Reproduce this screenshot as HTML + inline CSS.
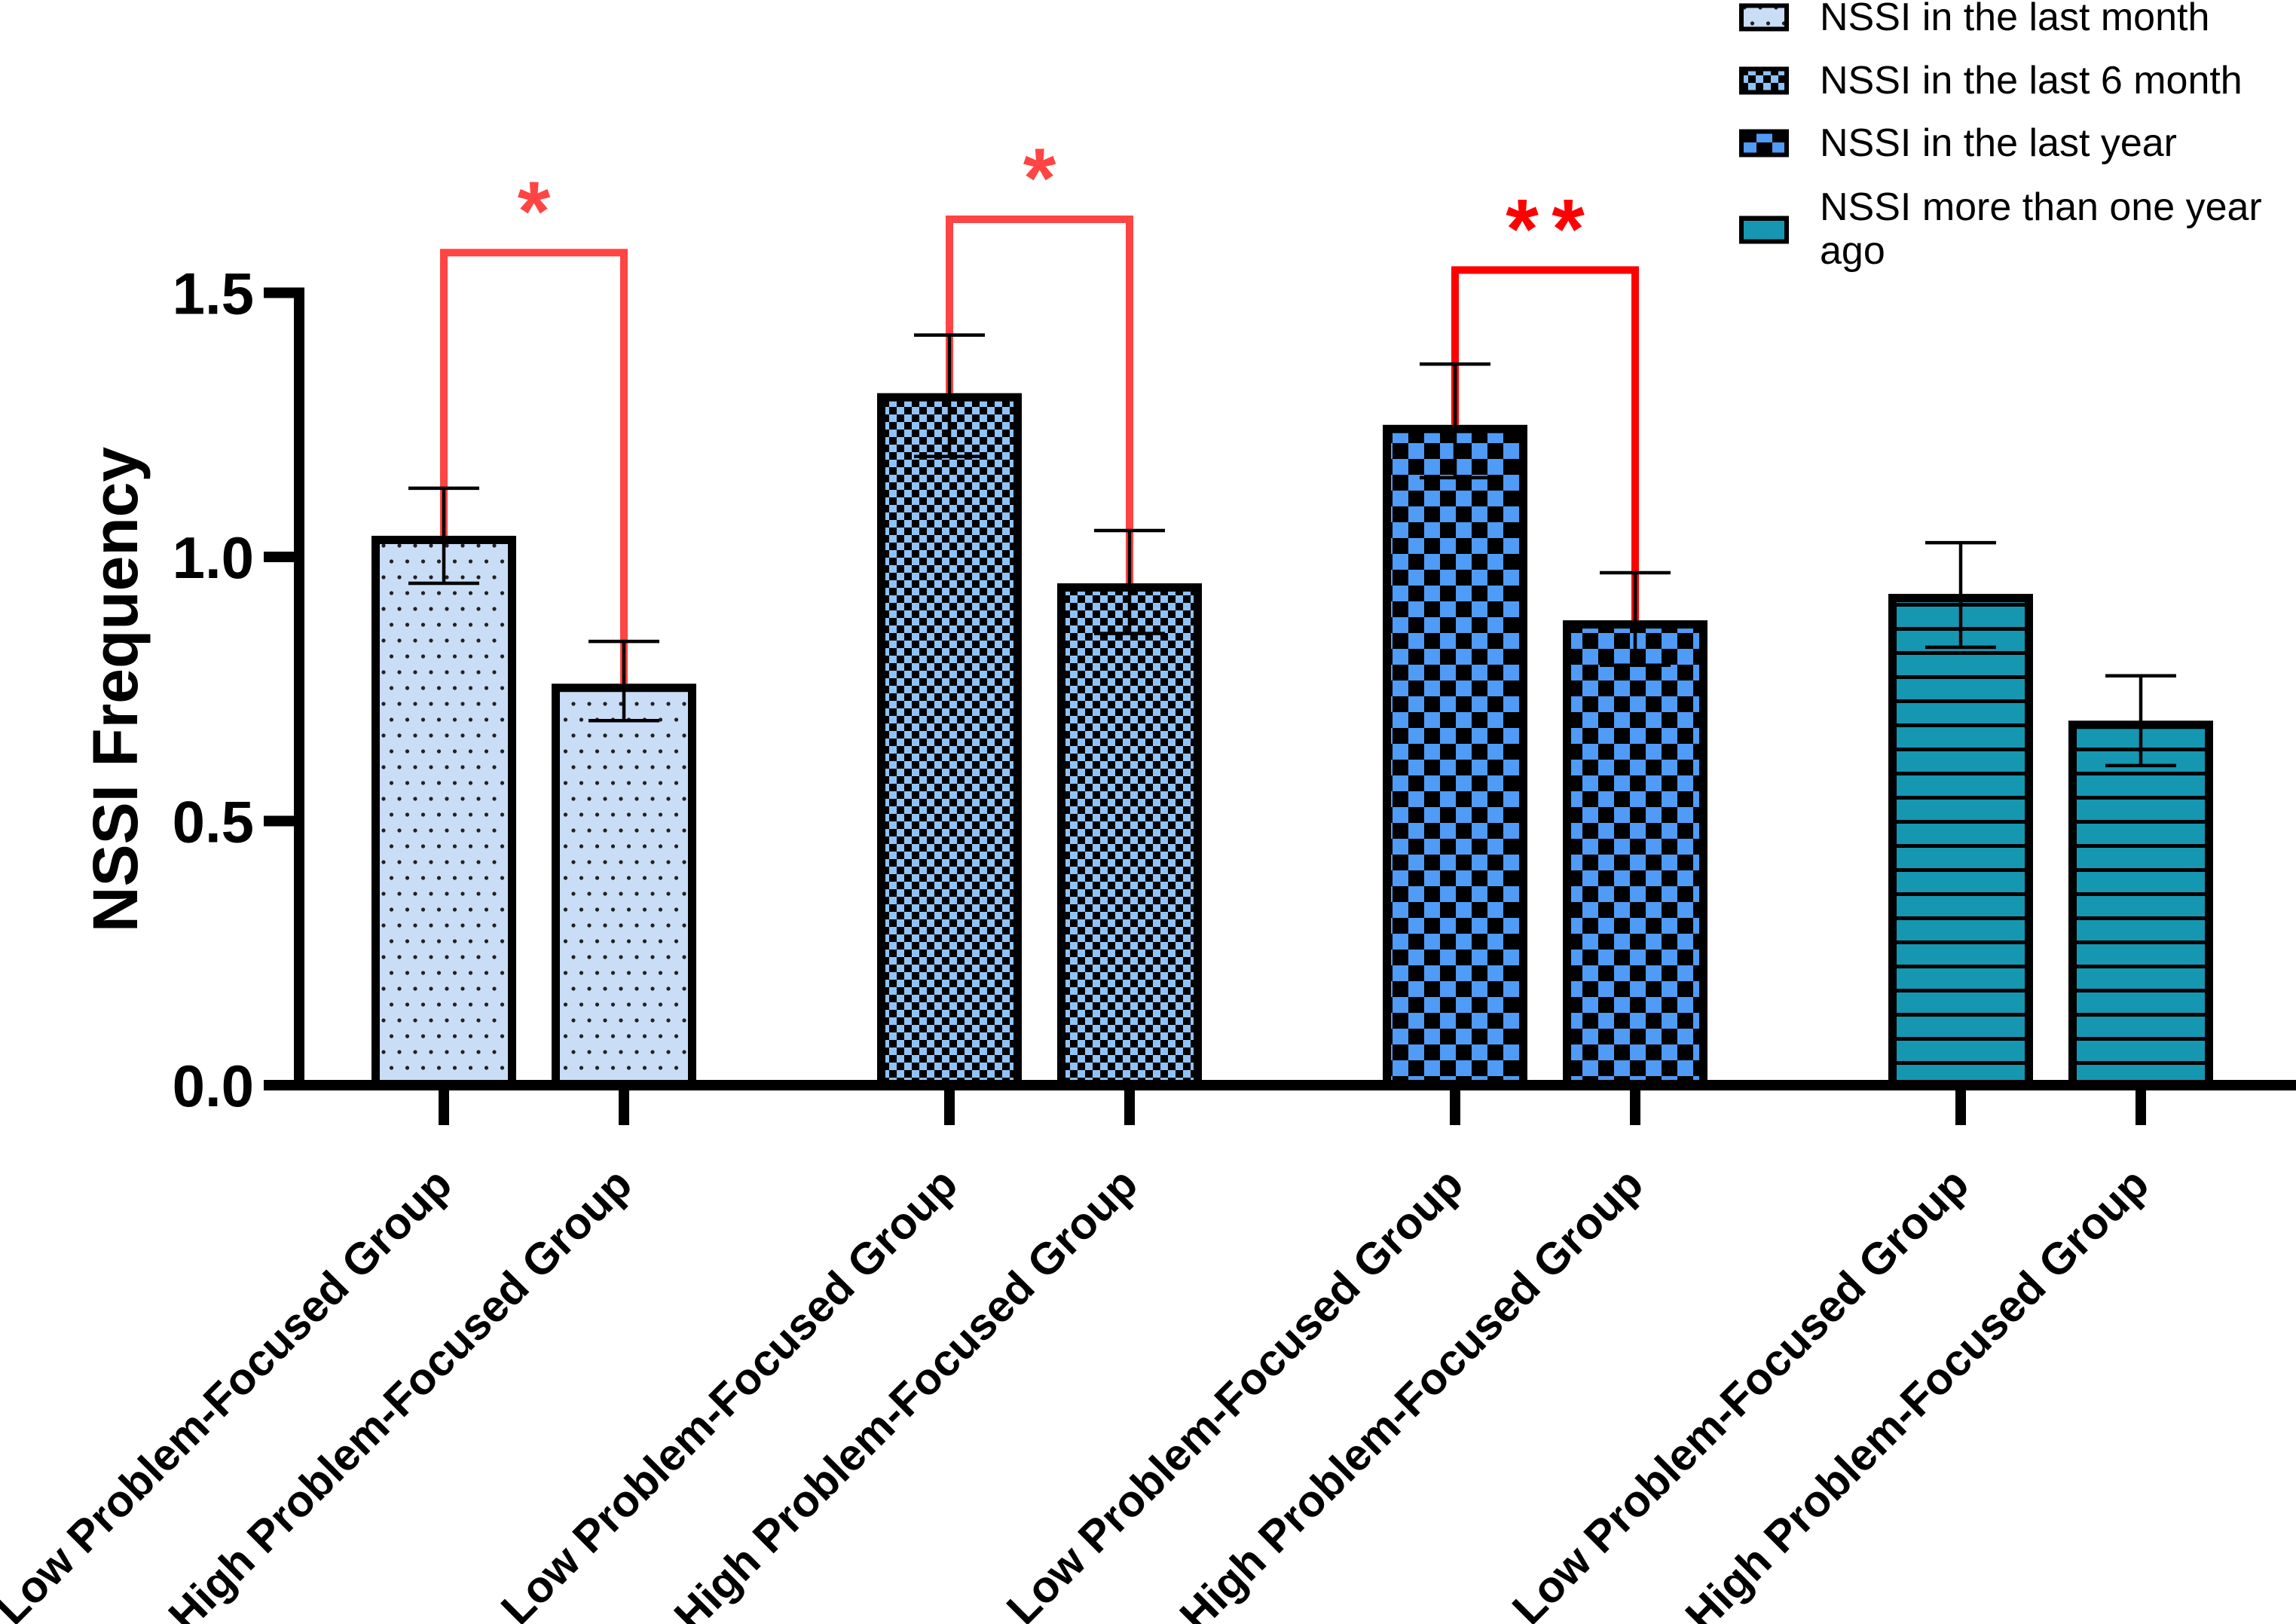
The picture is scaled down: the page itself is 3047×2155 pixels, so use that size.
<!DOCTYPE html>
<html><head><meta charset="utf-8"><style>
html,body{margin:0;padding:0;background:#fff;}
svg{display:block;font-family:"Liberation Sans",Arial,sans-serif;}
</style></head><body>
<svg id="chart" width="3047" height="2155" viewBox="0 0 3047 2155" xmlns="http://www.w3.org/2000/svg">
<defs>
  <pattern id="p-dots" patternUnits="userSpaceOnUse" width="21" height="42" x="0" y="0">
    <rect width="21" height="42" fill="#c9ddf6"/>
    <circle cx="5" cy="10" r="2.6" fill="#222"/>
    <circle cx="15.5" cy="31" r="2.6" fill="#222"/>
  </pattern>
  <pattern id="p-check-small" patternUnits="userSpaceOnUse" width="20" height="20">
    <rect width="20" height="20" fill="#8fc3f7"/>
    <rect width="10" height="10" fill="#000"/>
    <rect x="10" y="10" width="10" height="10" fill="#000"/>
  </pattern>
  <pattern id="p-check-large" patternUnits="userSpaceOnUse" width="42" height="42">
    <rect width="42" height="42" fill="#4f9bf5"/>
    <rect width="21" height="21" fill="#000"/>
    <rect x="21" y="21" width="21" height="21" fill="#000"/>
  </pattern>
  <pattern id="p-stripes" patternUnits="userSpaceOnUse" width="20" height="32">
    <rect width="20" height="32" fill="#1597b2"/>
    <rect y="0" width="20" height="5" fill="#000"/>
  </pattern>
</defs>
<g id="plot"></g>
</svg>
<script>
const categories = ["Low Problem-Focused Group","High Problem-Focused Group","Low Problem-Focused Group","High Problem-Focused Group","Low Problem-Focused Group","High Problem-Focused Group","Low Problem-Focused Group","High Problem-Focused Group"];
const seriesNames = ["NSSI in the last month","NSSI in the last 6 month","NSSI in the last year","NSSI more than one year ago"];
const barSeries = [0,0,1,1,2,2,3,3];
const means = [1.04,0.76,1.31,0.95,1.25,0.88,0.93,0.69];
const errHigh = [1.13,0.84,1.42,1.05,1.365,0.97,1.027,0.775];
const errLow = [0.95,0.69,1.19,0.855,1.15,0.795,0.829,0.605];
const yTicks = [0,0.5,1.0,1.5];
const yTickLabels = ["0.0","0.5","1.0","1.5"];
const bracketPairs = [[0,1],[2,3],[4,5]];
const bracketLevels = [1.576,1.639,1.543];
const bracketLabels = ["*","*","**"];

const NS='http://www.w3.org/2000/svg';
const plot=document.getElementById('plot');
const Y0=1440, PXU=701;
function yScale(v){return Y0 - v*PXU;}
const xStart=589, groupGap=671, inner=239;
function xScale(i){return xStart + Math.floor(i/2)*groupGap + (i%2)*inner;}
const barW=192;
const fills=['url(#p-dots)','url(#p-check-small)','url(#p-check-large)','url(#p-stripes)'];
const redCols=['#ff4444','#ff4444','#ff0000'];
function mk(tag,attrs,parent){const e=document.createElementNS(NS,tag);for(const k in attrs)e.setAttribute(k,attrs[k]);(parent||plot).appendChild(e);return e;}

means.forEach((m,i)=>{
  const cx=xScale(i), top=yScale(m);
  const r=mk('rect',{x:cx-barW/2+5.5,y:top+5.5,width:barW-11,height:Y0-top-5.5,fill:fills[barSeries[i]],stroke:'#000','stroke-width':11});
  
  
});
bracketPairs.forEach((p,k)=>{
  const x1=xScale(p[0]), x2=xScale(p[1]), yb=yScale(bracketLevels[k]);
  const pl=mk('polyline',{points:`${x1},${yScale(means[p[0]])} ${x1},${yb} ${x2},${yb} ${x2},${yScale(means[p[1]])}`,fill:'none',stroke:redCols[k],'stroke-width':10});
  
  
  const n=bracketLabels[k].length, mid=(x1+x2)/2;
  for(let j=0;j<n;j++){
    const sx=mid+(j-(n-1)/2)*61;
    const t=mk('text',{x:sx,y:yb-16,'text-anchor':'middle','font-size':112,'font-weight':'bold',fill:redCols[k]});
    t.textContent='*';
    
    
  }
});
means.forEach((m,i)=>{
  const cx=xScale(i), g=mk('g',{stroke:'#000','stroke-width':4.5});
  
  
  mk('line',{x1:cx,x2:cx,y1:yScale(errLow[i]),y2:yScale(errHigh[i])},g);
  mk('line',{x1:cx-47,x2:cx+47,y1:yScale(errHigh[i]),y2:yScale(errHigh[i])},g);
  mk('line',{x1:cx-47,x2:cx+47,y1:yScale(errLow[i]),y2:yScale(errLow[i])},g);
});
const ax=mk('g',{});


mk('line',{x1:397,x2:397,y1:yScale(1.5)-7,y2:Y0+7,stroke:'#000','stroke-width':14},ax);
mk('line',{x1:350,x2:3047,y1:Y0,y2:Y0,stroke:'#000','stroke-width':14},ax);
yTicks.forEach((v,k)=>{
  mk('line',{x1:350,x2:397,y1:yScale(v),y2:yScale(v),stroke:'#000','stroke-width':14},ax);
  const t=mk('text',{x:337,y:yScale(v)+28,'text-anchor':'end','font-size':78,'font-weight':'bold',fill:'#000'});
  t.textContent=yTickLabels[k];
  
  
});
categories.forEach((c,i)=>{
  const cx=xScale(i);
  mk('line',{x1:cx,x2:cx,y1:Y0,y2:1493,stroke:'#000','stroke-width':14},ax);
  const ax0=cx+14, ay0=1575;
  const t=mk('text',{x:ax0,y:ay0,'text-anchor':'end','font-size':59,'font-weight':'bold',fill:'#000',transform:`rotate(-45 ${ax0} ${ay0})`});
  t.textContent=c;
  
  
});
const yl=mk('text',{x:0,y:0,'text-anchor':'middle','font-size':84,'font-weight':'bold',fill:'#000',transform:'translate(182 915) rotate(-90)'});
yl.textContent='NSSI Frequency';


const legY=[23,107,190,305];
const lg=mk('g',{});


seriesNames.forEach((s,k)=>{
  const sw=mk('rect',{x:2311,y:legY[k]-15.5,width:60,height:31,fill:fills[k],stroke:'#000','stroke-width':6},lg);
  
  
  const t=mk('text',{x:2415,y:legY[k]+17,'font-size':52,fill:'#000'},lg);
  
  
  if(k===3){
    t.setAttribute('y',292);
    const a=mk('tspan',{x:2415,y:292},t);a.textContent='NSSI more than one year';
    const b=mk('tspan',{x:2415,y:350},t);b.textContent='ago';
  } else t.textContent=s;
});
</script>
</body></html>
